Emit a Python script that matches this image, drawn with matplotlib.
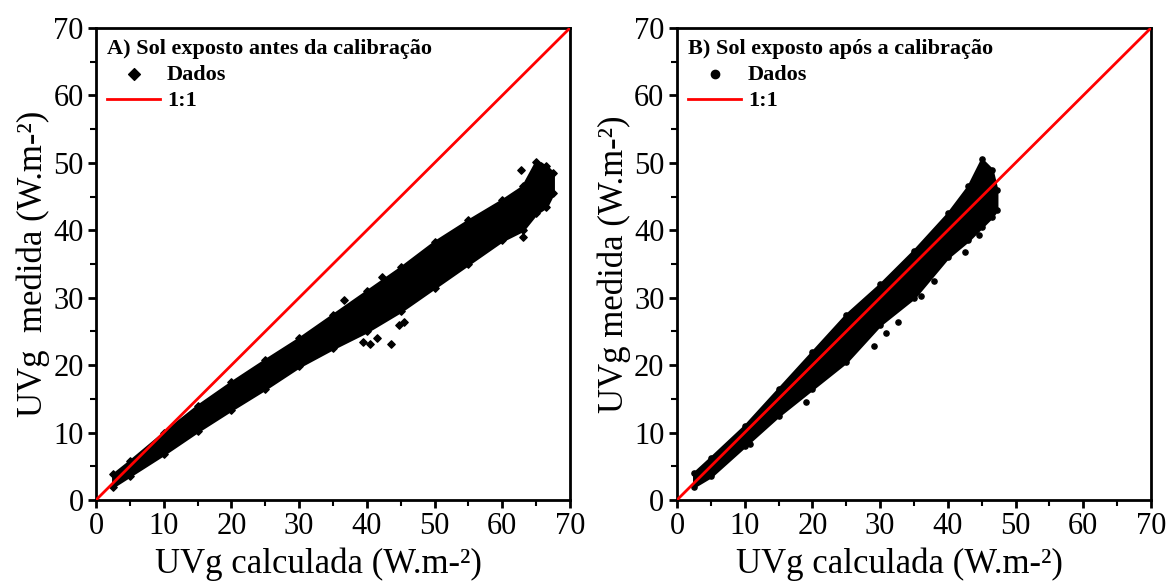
import matplotlib
matplotlib.use("Agg")
import matplotlib.pyplot as plt
from matplotlib.ticker import MultipleLocator

plt.rcParams['font.family'] = ['Liberation Serif', 'DejaVu Serif']

# envelope of the data cloud: x, lower edge, upper edge (W.m-2)
a_x = [2.5, 5, 10, 15, 20, 25, 30, 35, 40, 45, 50, 55, 60, 63, 65, 66.5, 67.5]
a_lo = [2.0, 3.6, 6.8, 10.2, 13.4, 16.5, 19.8, 22.5, 25.0, 28.0, 31.5, 35.0, 38.5, 40.0, 42.5, 43.5, 45.5]
a_hi = [3.8, 5.8, 10.0, 14.0, 17.5, 20.8, 24.0, 27.5, 31.0, 34.5, 38.3, 41.5, 44.5, 46.5, 50.2, 49.5, 48.5]
# scattered points outside the dense part
a_px = [43.5, 45.5, 44.8, 40.5, 36.6, 42.2, 63.0, 62.7, 65.7, 39.5, 41.5]
a_py = [23.1, 26.4, 26.0, 23.1, 29.7, 33.0, 39.0, 48.9, 49.5, 23.5, 24.0]

b_x = [2.5, 5, 10, 15, 20, 25, 30, 35, 40, 43, 45, 46.5, 47.2]
b_lo = [2.0, 3.5, 8.0, 12.5, 16.5, 20.5, 26.0, 30.0, 36.0, 38.5, 40.5, 42.0, 43.0]
b_hi = [4.0, 6.3, 11.0, 16.5, 22.0, 27.5, 32.0, 37.0, 42.5, 46.5, 50.5, 49.0, 46.0]
b_px = [29.1, 30.8, 32.7, 36.0, 37.9, 42.6, 44.6, 46.5, 19.1, 10.8]
b_py = [22.9, 24.8, 26.4, 30.3, 32.5, 36.8, 39.3, 42.9, 14.6, 8.3]

ref_line = [0, 70]

fig = plt.figure(figsize=(11.68, 5.82), dpi=100)
ax1 = fig.add_axes([0.0822, 0.1409, 0.4058, 0.811])
ax2 = fig.add_axes([0.5796, 0.1409, 0.4058, 0.811])

panels = [
    (ax1, a_x, a_lo, a_hi, a_px, a_py, 'D', "A) Sol exposto antes da calibração", "UVg  medida (W.m-²)"),
    (ax2, b_x, b_lo, b_hi, b_px, b_py, 'o', "B) Sol exposto após a calibração", "UVg medida (W.m-²)"),
]

for ax, x, lo, hi, px, py, mk, title, ylab in panels:
    ax.fill_between(x, lo, hi, color='black', lw=2, edgecolor='black', zorder=2)
    ax.scatter(x + x + px, lo + hi + py, s=14, marker=mk, color='black',
               zorder=2, label='Dados')
    ax.plot(ref_line, ref_line, color='#ff0000', lw=2, zorder=3, label='1:1')

    ax.set_xlim(0, 70)
    ax.set_ylim(0, 70)
    ax.xaxis.set_major_locator(MultipleLocator(10))
    ax.yaxis.set_major_locator(MultipleLocator(10))
    ax.xaxis.set_minor_locator(MultipleLocator(5))
    ax.yaxis.set_minor_locator(MultipleLocator(5))
    ax.tick_params(which='major', direction='out', length=6, width=2,
                   labelsize=22, pad=3)
    ax.tick_params(which='minor', direction='out', length=4, width=1.5)
    for sp in ax.spines.values():
        sp.set_linewidth(2)

    ax.set_xlabel("UVg calculada (W.m-²)", fontsize=25)
    ax.xaxis.set_label_coords(0.47, -0.1)
    ax.set_ylabel(ylab, fontsize=25, labelpad=2)

    leg = ax.legend(loc='upper left', frameon=False, title=title,
                    prop={'size': 16, 'weight': 'bold'},
                    title_fontproperties={'size': 16, 'weight': 'bold'},
                    handlelength=2.4, handletextpad=0.3, borderaxespad=0.2,
                    labelspacing=0.25, markerscale=1.6, borderpad=0.3)
    leg._legend_box.align = 'left'

fig.savefig('out.png', dpi=100)
